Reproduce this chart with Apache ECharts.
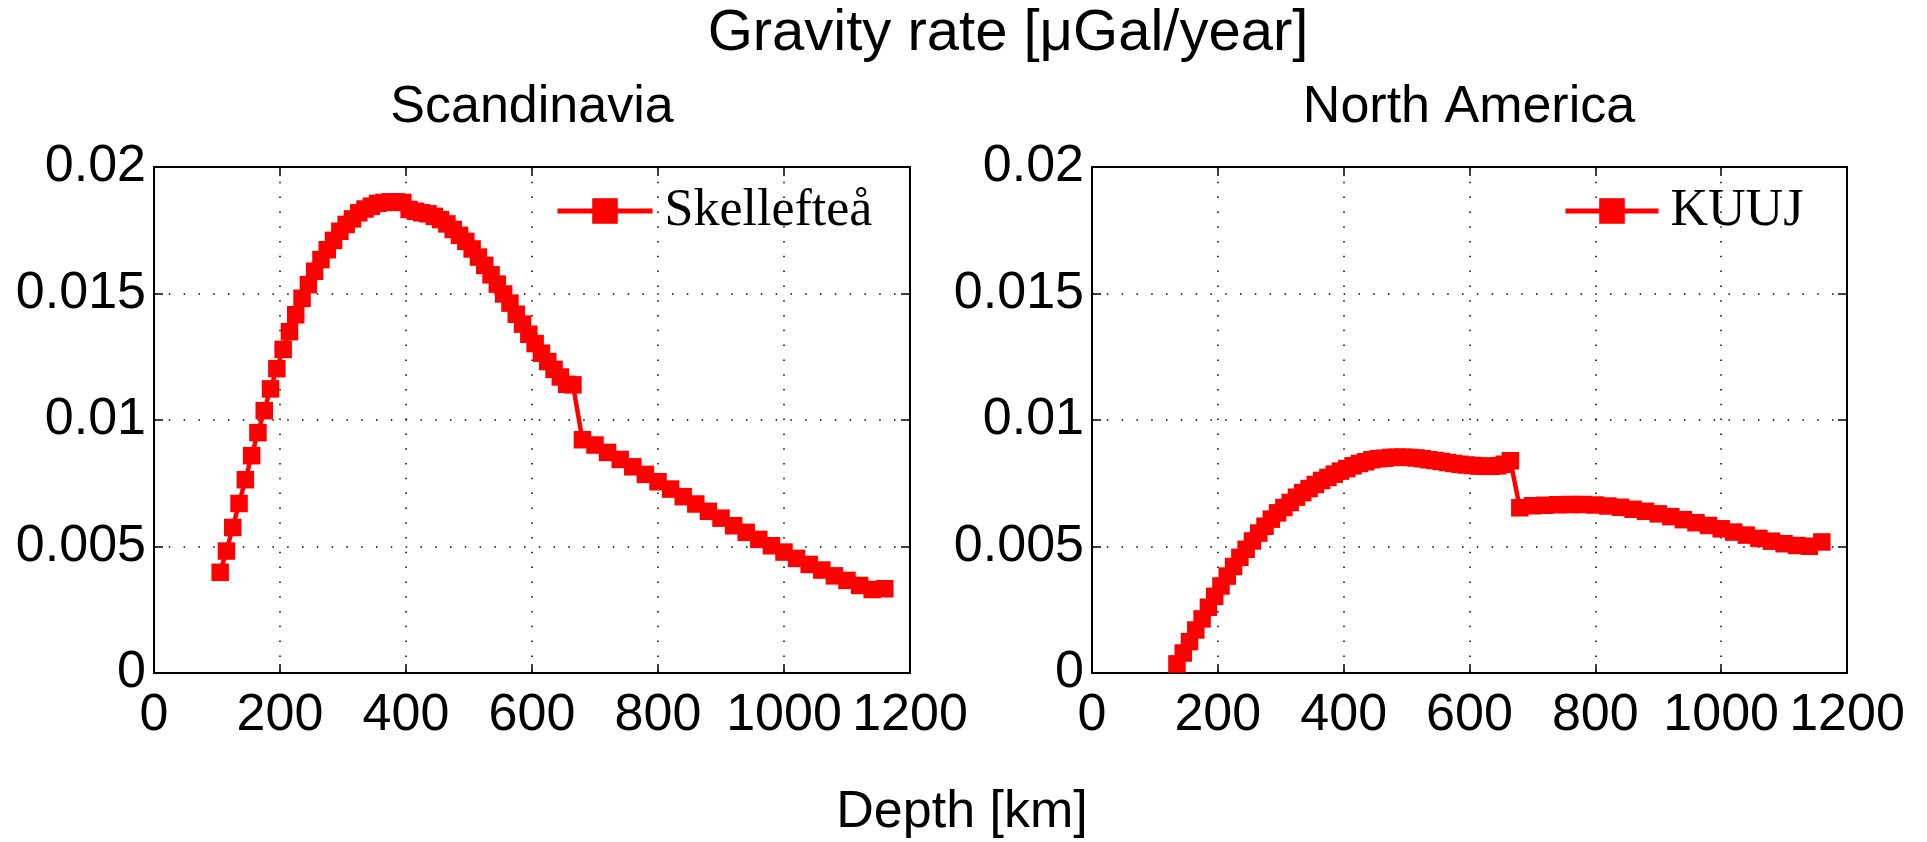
<!DOCTYPE html>
<html>
<head>
<meta charset="utf-8">
<script src="https://cdn.jsdelivr.net/npm/echarts/dist/echarts.min.js"></script>
<style>
  html, body { margin: 0; padding: 0; background: #fff; }
  #main { width: 1927px; height: 842px; }
</style>
</head>
<body>
<div id="main"></div>
<script>
// depth [km] and gravity rate [uGal/year]
var scDepth = [105, 115, 125, 135, 145, 155, 165, 175, 185, 195, 205, 215, 225, 235, 245, 255, 265, 275, 285, 295,
  305, 315, 325, 335, 345, 355, 365, 375, 385, 395, 405, 415, 425, 435, 445, 455, 465, 475, 485, 495,
  505, 515, 525, 535, 545, 555, 565, 575, 585, 595, 605, 615, 625, 635, 645, 655, 665,
  680, 700, 720, 740, 760, 780, 800, 820, 840, 860, 880, 900, 920, 940, 960, 980, 1000, 1020, 1040,
  1060, 1080, 1100, 1120, 1140, 1160];
var scRate = [0.00398, 0.00482, 0.00575, 0.00670, 0.00764, 0.00859, 0.00950, 0.01037, 0.01123, 0.01203,
  0.01279, 0.01349, 0.01416, 0.01481, 0.01535, 0.01588, 0.01634, 0.01673, 0.01710, 0.01746,
  0.01773, 0.01795, 0.01819, 0.01834, 0.01845, 0.01856, 0.01860, 0.01862, 0.01862, 0.01860,
  0.01832, 0.01825, 0.01819, 0.01815, 0.01805, 0.01792, 0.01775, 0.01753, 0.01730, 0.01706,
  0.01676, 0.01644, 0.01611, 0.01574, 0.01537, 0.01498, 0.01462, 0.01418, 0.01379, 0.01339,
  0.01302, 0.01264, 0.01231, 0.01200, 0.01170, 0.01141, 0.01139,
  0.00922, 0.00901, 0.00872, 0.00844, 0.00815, 0.00785, 0.00756, 0.00727, 0.00697, 0.00668,
  0.00639, 0.00612, 0.00582, 0.00556, 0.00528, 0.00503, 0.00478, 0.00453, 0.00429, 0.00407,
  0.00384, 0.00366, 0.00346, 0.00330, 0.00333];

var naDepth = [135, 145, 155, 165, 175, 185, 195, 205, 215, 225, 235, 245, 255, 265, 275, 285, 295,
  305, 315, 325, 335, 345, 355, 365, 375, 385, 395, 405, 415, 425, 435, 445, 455, 465, 475, 485, 495,
  505, 515, 525, 535, 545, 555, 565, 575, 585, 595, 605, 615, 625, 635, 645, 655, 665,
  680, 700, 720, 740, 760, 780, 800, 820, 840, 860, 880, 900, 920, 940, 960, 980, 1000, 1020, 1040,
  1060, 1080, 1100, 1120, 1140, 1160];
var naRate = [0.00036, 0.00079, 0.00124, 0.00170, 0.00214, 0.00260, 0.00303, 0.00344, 0.00383, 0.00421,
  0.00457, 0.00489, 0.00522, 0.00553, 0.00580, 0.00608, 0.00633, 0.00654, 0.00674, 0.00695,
  0.00713, 0.00729, 0.00745, 0.00761, 0.00773, 0.00786, 0.00798, 0.00808, 0.00819, 0.00828,
  0.00835, 0.00843, 0.00847, 0.00849, 0.00852, 0.00853, 0.00853, 0.00852, 0.00850, 0.00847,
  0.00843, 0.00840, 0.00836, 0.00832, 0.00828, 0.00825, 0.00822, 0.00820, 0.00818, 0.00817,
  0.00817, 0.00819, 0.00825, 0.00839,
  0.00653, 0.00661, 0.00663, 0.00665, 0.00666, 0.00666, 0.00664, 0.00660, 0.00655, 0.00647,
  0.00639, 0.00629, 0.00618, 0.00606, 0.00594, 0.00583, 0.00570, 0.00557, 0.00545, 0.00532,
  0.00521, 0.00511, 0.00504, 0.00501, 0.00518];

var panelTitles = ['Scandinavia', 'North America'];
var stationNames = ['Skellefteå', 'KUUJ'];

function pairs(xs, ys) {
  return xs.map(function (x, i) { return [x, ys[i]]; });
}

var FONT = 'Liberation Sans, Arial, sans-serif';
var tickStyle = { show: true, inside: true, length: 9, lineStyle: { color: '#000', width: 1.5 } };
var axisLineStyle = { show: true, onZero: false, lineStyle: { color: '#000', width: 2 } };
var dotted = { show: true, lineStyle: { color: '#000', width: 1.5, type: [1.5, 13.3] } };

function xAx(grid, pos) {
  var main = pos === 'bottom';
  return {
    type: 'value', gridIndex: grid, position: pos, min: 0, max: 1200, interval: 200,
    axisLine: axisLineStyle, axisTick: tickStyle,
    splitLine: main ? dotted : { show: false },
    axisLabel: {
      show: main, color: '#000', fontSize: 52, fontFamily: FONT, margin: 17,
      showMinLabel: true, showMaxLabel: true, hideOverlap: false,
      formatter: function (v) { return String(v); }
    }
  };
}
function yAx(grid, pos) {
  var main = pos === 'left';
  return {
    type: 'value', gridIndex: grid, position: pos, min: 0, max: 0.02, interval: 0.005,
    axisLine: axisLineStyle, axisTick: tickStyle,
    splitLine: main ? dotted : { show: false },
    axisLabel: {
      show: main, color: '#000', fontSize: 52, fontFamily: FONT, margin: 8,
      showMinLabel: true, showMaxLabel: true,
      formatter: function (v) { return String(+v.toFixed(4)); }
    }
  };
}

function legendFor(name, left, width) {
  return {
    data: [name], left: left, top: 185, padding: 0,
    itemWidth: width, itemHeight: 32,
    lineStyle: { color: '#ff0000', width: 5 },
    itemStyle: { color: '#ff0000' },
    textStyle: { fontFamily: 'Liberation Serif, serif', fontSize: 52, color: '#000', padding: [0, 0, 0, 7] }
  };
}

function seriesFor(name, axisIdx, xs, ys) {
  return {
    name: name, type: 'line', xAxisIndex: axisIdx, yAxisIndex: axisIdx,
    data: pairs(xs, ys),
    symbol: 'rect', symbolSize: 17.5, color: '#ff0000',
    itemStyle: { color: '#ff0000' },
    lineStyle: { color: '#ff0000', width: 4.5 }
  };
}

function label(text, x, y, size) {
  return {
    type: 'text', x: x, y: y,
    style: {
      text: text, font: size + 'px ' + FONT, fill: '#000',
      textAlign: 'center', textVerticalAlign: 'middle', align: 'center', verticalAlign: 'middle'
    }
  };
}

var chart = echarts.init(document.getElementById('main'));
chart.setOption({
  animation: false,
  backgroundColor: '#fff',
  grid: [
    { left: 154, top: 167, width: 756, height: 506, outerBoundsMode: 'none' },
    { left: 1092, top: 167, width: 755, height: 506, outerBoundsMode: 'none' }
  ],
  xAxis: [xAx(0, 'bottom'), xAx(0, 'top'), xAx(1, 'bottom'), xAx(1, 'top')],
  yAxis: [yAx(0, 'left'), yAx(0, 'right'), yAx(1, 'left'), yAx(1, 'right')],
  legend: [legendFor(stationNames[0], 555, 95), legendFor(stationNames[1], 1563, 93)],
  series: [
    seriesFor(stationNames[0], 0, scDepth, scRate),
    seriesFor(stationNames[1], 2, naDepth, naRate)
  ],
  graphic: [
    label('Gravity rate [μGal/year]', 1008, 34, 58),
    label(panelTitles[0], 532, 108, 52),
    label(panelTitles[1], 1469, 108, 52),
    label('Depth [km]', 962, 813, 52)
  ]
});
</script>
</body>
</html>
